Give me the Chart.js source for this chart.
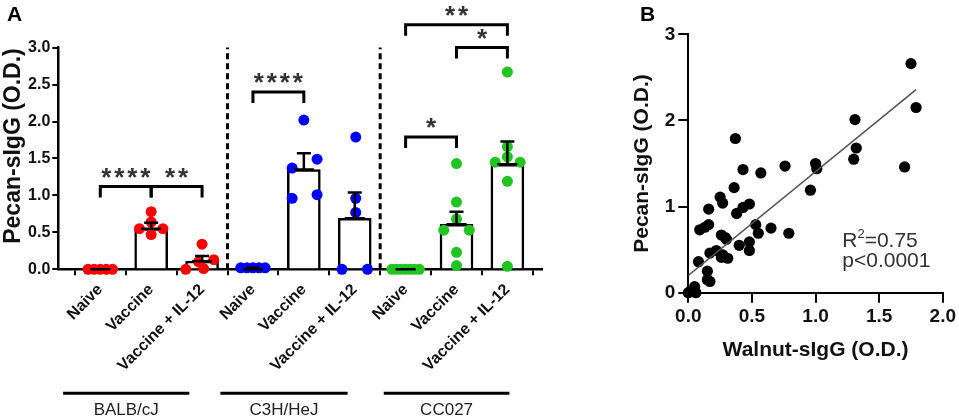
<!DOCTYPE html>
<html>
<head>
<meta charset="utf-8">
<script src="https://cdn.jsdelivr.net/npm/chart.js@4.4.0/dist/chart.umd.min.js"></script>
<style>
  body { margin: 0; background: #fff; width: 959px; height: 420px; overflow: hidden; position: relative; font-family: "Liberation Sans", Arial, sans-serif; }
  #boxA { position: absolute; left: 0; top: 0; width: 560px; height: 420px; }
  #boxB { position: absolute; left: 630px; top: 0; width: 329px; height: 420px; }
  .lbl { position: absolute; font-weight: bold; font-size: 21px; color: #000; }
</style>
</head>
<body>
<div id="boxA"><canvas id="chartA"></canvas></div>
<div id="boxB"><canvas id="chartB"></canvas></div>
<div class="lbl" style="left:7px;top:2px">A</div>
<div class="lbl" style="left:640px;top:2px">B</div>
<script>
// ---- panel A data ----
var groupLabels = ['Naive', 'Vaccine', 'Vaccine + IL-12', 'Naive', 'Vaccine', 'Vaccine + IL-12', 'Naive', 'Vaccine', 'Vaccine + IL-12'];
var strainLabels = ['BALB/cJ', 'C3H/HeJ', 'CC027'];
var groupMeans = [0, 0.55, 0.11, 0, 1.35, 0.69, 0, 0.61, 1.42];
var groupSemTops = [0, 0.63, 0.18, 0.02, 1.57, 1.04, 0, 0.78, 1.73];

// single mice: x = group index + jitter
var balbX = [-0.24, -0.12, 0, 0.12, 0.24, 1, 1, 0.77, 1, 1.23, 2, 1.68, 1.93, 2.23, 2.03];
var balbY = [0, 0, 0, 0, 0, 0.78, 0.64, 0.55, 0.47, 0.55, 0.34, 0, 0.10, 0.13, 0.01];
var c3hX = [2.76, 2.88, 3, 3.12, 3.24, 4, 3.77, 4.26, 3.77, 4.26, 5.02, 5.02, 5.02, 4.75, 5.25];
var c3hY = [0.02, 0.02, 0.02, 0.02, 0.02, 2.02, 1.37, 1.49, 0.96, 1.01, 1.79, 0.96, 0.77, 0, 0];
var ccX = [5.73, 5.82, 5.91, 6, 6.09, 6.18, 6.27, 7, 7, 7, 6.75, 7.25, 7, 7, 8, 8, 7.76, 8, 8.25, 8, 8];
var ccY = [0, 0, 0, 0, 0, 0, 0, 1.43, 0.91, 0.68, 0.53, 0.53, 0.23, 0.05, 2.67, 1.66, 1.45, 1.52, 1.45, 1.19, 0.04];

// significance brackets
var sigFrom = [0, 1, 3, 6, 7, 6];
var sigTo = [1, 2, 4, 7, 8, 8];
var sigLevel = [1.12, 1.12, 2.40, 1.79, 3.0, 3.31];
var sigStars = ['****', '**', '****', '*', '*', '**'];

// strain underline spans (in group units)
var strainFrom = [-0.73, 2.36, 5.57];
var strainTo = [1.75, 4.86, 8.04];

// ---- panel B data ----
var walnut = [1.75, 1.79, 1.31, 1.32, 1.30, 1.70, 1.00, 1.01, 0.96, 0.76, 0.57, 0.43, 0.37, 0.36, 0.25, 0.27,
  0.16, 0.38, 0.43, 0.48, 0.16, 0.09, 0.13, 0.53, 0.55, 0.65, 0.79, 0.48, 0.48, 0.40, 0.26, 0.30,
  0.17, 0.22, 0.26, 0.31, 0.08, 0.15, 0.15, 0.17, 0.05, 0.01, 0.04, 0.00, 0.06, 0.29, 0.27];
var pecan = [2.66, 2.15, 2.01, 1.68, 1.55, 1.46, 1.50, 1.44, 1.19, 1.47, 1.39, 1.43, 1.79, 1.22, 1.11, 1.04,
  0.97, 0.92, 0.99, 1.03, 0.79, 0.73, 0.76, 0.79, 0.69, 0.75, 0.69, 0.59, 0.49, 0.55, 0.67, 0.62,
  0.46, 0.49, 0.41, 0.40, 0.36, 0.25, 0.15, 0.13, 0.07, 0.01, 0.03, 0.00, 0.00, 0.64, 0.44];
var fitSlope = 1.205;
var fitIntercept = 0.2;
var fitRange = [0, 1.79];

var FONT = '"Liberation Sans", Arial, sans-serif';
var strainColors = ['#ff0000', '#0000ff', '#22c422'];

function pts(xs, ys) {
  return xs.map(function (v, i) { return { x: v, y: ys[i] }; });
}

// error bars, separators, brackets, strain labels
var panelAExtras = {
  id: 'panelAExtras',
  afterDatasetsDraw: function (chart) {
    var ctx = chart.ctx, x = chart.scales.x, y = chart.scales.y;
    ctx.save();
    ctx.strokeStyle = '#000';
    ctx.lineWidth = 2.5;
    groupMeans.forEach(function (m, i) {
      var px = x.getPixelForValue(i);
      var pm = y.getPixelForValue(m), ps = y.getPixelForValue(groupSemTops[i]);
      ctx.beginPath();
      ctx.moveTo(px - 10, pm); ctx.lineTo(px + 10, pm);
      ctx.moveTo(px, pm); ctx.lineTo(px, ps);
      ctx.moveTo(px - 7, ps); ctx.lineTo(px + 7, ps);
      ctx.stroke();
    });
    ctx.restore();
  },
  afterDraw: function (chart) {
    var ctx = chart.ctx, x = chart.scales.x, y = chart.scales.y, area = chart.chartArea;
    ctx.save();
    // dashed separators between strains
    ctx.strokeStyle = '#000';
    ctx.lineWidth = 3;
    ctx.setLineDash([6, 4]);
    [2.5, 5.5].forEach(function (v) {
      var px = x.getPixelForValue(v);
      ctx.beginPath();
      ctx.moveTo(px, y.getPixelForValue(0));
      ctx.lineTo(px, y.getPixelForValue(3.0));
      ctx.stroke();
    });
    ctx.setLineDash([]);
    // brackets
    ctx.lineWidth = 3;
    ctx.fillStyle = '#333';
    ctx.font = 'bold 26px ' + FONT;
    ctx.textAlign = 'center';
    ctx.textBaseline = 'alphabetic';
    sigFrom.forEach(function (f, k) {
      var xa = x.getPixelForValue(f), xb = x.getPixelForValue(sigTo[k]);
      var yt = y.getPixelForValue(sigLevel[k]);
      ctx.beginPath();
      ctx.moveTo(xa, yt + 11); ctx.lineTo(xa, yt); ctx.lineTo(xb, yt); ctx.lineTo(xb, yt + 11);
      ctx.stroke();
      var n = sigStars[k].length, cx = (xa + xb) / 2;
      for (var s = 0; s < n; s++) {
        ctx.fillText('*', cx + (s - (n - 1) / 2) * 13, yt - 1);
      }
    });
    // strain underlines and names
    ctx.fillStyle = '#222';
    ctx.font = '17px ' + FONT;
    ctx.textBaseline = 'middle';
    strainLabels.forEach(function (s, i) {
      var xa = x.getPixelForValue(strainFrom[i]), xb = x.getPixelForValue(strainTo[i]);
      ctx.beginPath();
      ctx.moveTo(xa, area.bottom + 124); ctx.lineTo(xb, area.bottom + 124);
      ctx.stroke();
      ctx.fillText(s, (xa + xb) / 2, area.bottom + 141);
    });
    // y title
    ctx.translate(14, 146);
    ctx.rotate(-Math.PI / 2);
    ctx.fillStyle = '#111';
    ctx.font = 'bold 23px ' + FONT;
    ctx.fillText('Pecan-sIgG (O.D.)', 0, 0);
    ctx.restore();
  }
};

var scatterA = [[balbX, balbY], [c3hX, c3hY], [ccX, ccY]].map(function (p, i) {
  return {
    type: 'scatter', data: pts(p[0], p[1]), backgroundColor: strainColors[i],
    borderWidth: 0, pointRadius: 5.5, clip: false, order: 1
  };
});

new Chart(document.getElementById('chartA'), {
  type: 'bar',
  data: {
    datasets: scatterA.concat([{
      type: 'bar',
      data: groupMeans.map(function (m, i) { return { x: i, y: m }; }),
      backgroundColor: '#fff', borderColor: '#000', borderWidth: 2.5,
      barThickness: 33, order: 2
    }])
  },
  options: {
    responsive: true, maintainAspectRatio: false, animation: false,
    layout: { padding: { top: 47.6, right: 18, left: 0, bottom: 0 } },
    plugins: { legend: { display: false }, tooltip: { enabled: false } },
    scales: {
      x: {
        type: 'linear', min: -0.825, max: 8.68, offset: false,
        afterBuildTicks: function (s) { s.ticks = groupLabels.map(function (g, i) { return { value: i }; }); },
        afterFit: function (s) { s.height = 150.7; },
        ticks: {
          autoSkip: false, minRotation: 45, maxRotation: 45, padding: 5,
          callback: function (v) { return groupLabels[v]; },
          font: { family: FONT, size: 16, weight: 'bold' }, color: '#111'
        },
        grid: { drawOnChartArea: false, color: '#000', lineWidth: 2, tickLength: 6 },
        border: { color: '#000', width: 2.5 }
      },
      y: {
        min: 0, max: 3,
        afterFit: function (s) { s.width = 58.3; },
        ticks: {
          stepSize: 0.5, padding: 2,
          callback: function (v) { return v.toFixed(1); },
          font: { family: FONT, size: 16, weight: 'bold' }, color: '#111'
        },
        grid: { drawOnChartArea: false, color: '#000', lineWidth: 2, tickLength: 6 },
        border: { color: '#000', width: 2.5 }
      }
    }
  },
  plugins: [panelAExtras]
});

// R2 / p text
var statsText = {
  id: 'statsText',
  afterDraw: function (chart) {
    var ctx = chart.ctx, x = chart.scales.x, y = chart.scales.y;
    var px = x.getPixelForValue(1.21), py = y.getPixelForValue(0.60);
    ctx.save();
    ctx.fillStyle = '#333';
    ctx.textBaseline = 'middle';
    ctx.textAlign = 'left';
    ctx.font = '21px ' + FONT;
    ctx.fillText('R', px, py);
    var w = ctx.measureText('R').width;
    ctx.font = '13px ' + FONT;
    ctx.fillText('2', px + w, py - 7);
    var w2 = ctx.measureText('2').width;
    ctx.font = '21px ' + FONT;
    ctx.fillText('=0.75', px + w + w2, py);
    ctx.fillText('p<0.0001', px, y.getPixelForValue(0.36));
    ctx.restore();
  }
};

new Chart(document.getElementById('chartB'), {
  type: 'scatter',
  data: {
    datasets: [{
      data: pts(walnut, pecan), backgroundColor: '#000', borderWidth: 0,
      pointRadius: 5.6, clip: false, order: 1
    }, {
      type: 'line',
      data: fitRange.map(function (v) { return { x: v, y: fitIntercept + fitSlope * v }; }),
      borderColor: '#555', borderWidth: 1.6, pointRadius: 0, fill: false, order: 0
    }]
  },
  options: {
    responsive: true, maintainAspectRatio: false, animation: false,
    layout: { padding: { top: 34.3, right: 13.5, left: 0, bottom: 57.4 } },
    plugins: { legend: { display: false }, tooltip: { enabled: false } },
    scales: {
      x: {
        type: 'linear', min: 0, max: 2,
        afterFit: function (s) { s.height = 69.9; },
        ticks: {
          stepSize: 0.5, padding: 3,
          callback: function (v) { return v.toFixed(1); },
          font: { family: FONT, size: 19, weight: 'bold' }, color: '#111'
        },
        grid: { drawOnChartArea: false, color: '#000', lineWidth: 2, tickLength: 10 },
        border: { color: '#000', width: 2 },
        title: { display: true, text: 'Walnut-sIgG (O.D.)', padding: 0, color: '#111', font: { family: FONT, size: 21, weight: 'bold' } }
      },
      y: {
        min: 0, max: 3,
        afterFit: function (s) { s.width = 58.3; },
        ticks: {
          stepSize: 1, padding: 3,
          font: { family: FONT, size: 19, weight: 'bold' }, color: '#111'
        },
        grid: { drawOnChartArea: false, color: '#000', lineWidth: 2, tickLength: 10 },
        border: { color: '#000', width: 2 },
        title: { display: true, text: 'Pecan-sIgG (O.D.)', padding: 0, color: '#111', font: { family: FONT, size: 21, weight: 'bold' } }
      }
    }
  },
  plugins: [statsText]
});
</script>
</body>
</html>
